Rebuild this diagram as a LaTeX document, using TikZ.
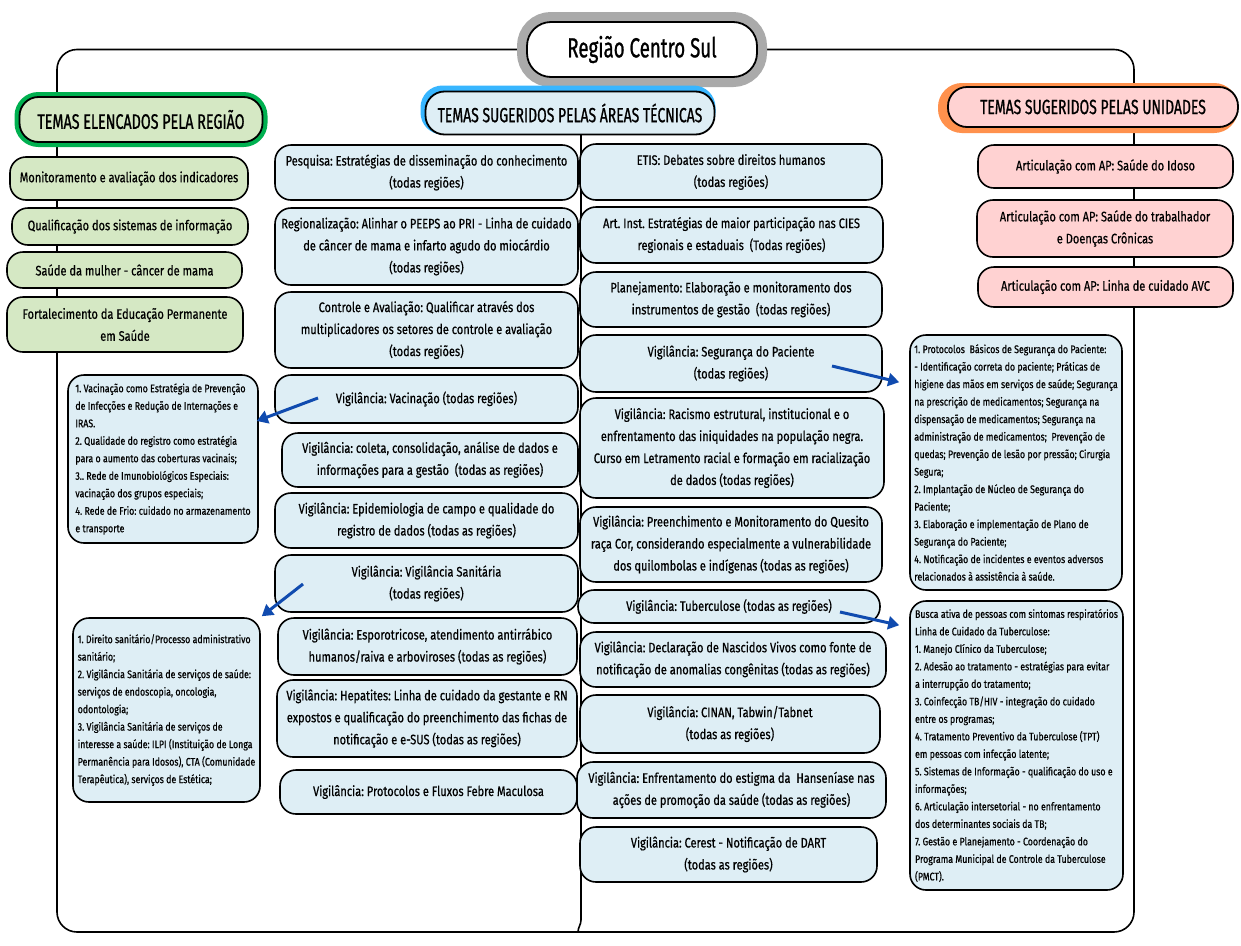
\documentclass[tikz,border=0pt]{standalone}
\usepackage{fontspec}
\setmainfont{Fira Sans}[FakeStretch=0.8,FakeBold=0.6]
\newfontfamily\headfont{Fira Sans}[FakeStretch=0.68,FakeBold=0.9]
\usetikzlibrary{arrows.meta}

\definecolor{boxblue}{RGB}{222,238,245}
\definecolor{boxgreen}{RGB}{213,232,196}
\definecolor{boxpink}{RGB}{255,210,210}
\definecolor{halogreen}{RGB}{0,176,80}
\definecolor{haloblue}{RGB}{56,182,255}
\definecolor{haloorange}{RGB}{255,145,77}
\definecolor{halogray}{RGB}{170,170,170}
\definecolor{arrowblue}{RGB}{16,75,175}

\tikzset{
  sz/.style n args={2}{minimum width=#1, minimum height=#2},
  topic/.style={draw=black, line width=1.6pt, rounded corners=16pt, align=center,
    inner sep=0pt, font=\fontsize{13.8}{22}\selectfont},
  bluetopic/.style={topic, fill=boxblue},
  greentopic/.style={topic, fill=boxgreen},
  pinktopic/.style={topic, fill=boxpink},
  notebox/.style={draw=black, line width=1.6pt, rounded corners=16pt, fill=boxblue,
    align=left, inner sep=0pt, font=\fontsize{11}{17.5}\selectfont},
  header/.style={draw=black, line width=1.8pt, rounded corners=19pt, align=center,
    inner sep=0pt, font=\headfont\fontsize{20.5}{22}\selectfont},
  link/.style={draw=black, line width=1.6pt},
  pointer/.style={draw=arrowblue, line width=3pt, -{Triangle[length=11pt,width=13pt]}}
}

\begin{document}
\frenchspacing
\begin{tikzpicture}[x=1pt,y=-1pt]
\useasboundingbox (0,0) rectangle (1241,945);
\fill[white] (0,0) rectangle (1241,945);

% tree connectors behind the boxes
\coordinate (spinetop) at (581,70);
\coordinate (spinebot) at (581,920);
\coordinate (corner) at (57,932);
\coordinate (rcorner) at (1134,932);
\node (T) at (642,49.5) {};
\draw[link, rounded corners=20pt] (T.center) -| (corner) -- (rcorner) |- (T.center);
\draw[link] (spinetop) -- (spinebot) to[out=-90,in=90] (578,932);

% title
\node[header, fill=white, preaction={draw=halogray, line width=20pt}, rounded corners=24pt,
  sz={230pt}{55pt}, font=\headfont\fontsize{27.5}{30}\selectfont] (title) at (642,49.5) {Região Centro Sul};

% column headers
\node[header, fill=boxgreen, preaction={draw=halogreen, line width=10pt},
  sz={243pt}{45pt}, font=\headfont\fontsize{21}{22}\selectfont] (HG) at (141,119.5) {TEMAS ELENCADOS PELA REGIÃO};
\node[header, fill=boxblue,
  preaction={draw=haloblue, fill=haloblue, line width=6pt, transform canvas={shift={(-2pt,3pt)}}},
  sz={289pt}{43pt}] (HB) at (570,113) {TEMAS SUGERIDOS PELAS ÁREAS TÉCNICAS};
\node[header, fill=boxpink,
  preaction={draw=haloorange, fill=haloorange, line width=10pt, transform canvas={shift={(-5pt,-1pt)}}},
  sz={290pt}{40pt}] (HO) at (1093,107) {TEMAS SUGERIDOS PELAS UNIDADES};

% themes chosen by the region
\node[greentopic, sz={238pt}{43pt}] (G1) at (129,178.5) {Monitoramento e avaliação dos indicadores};
\node[greentopic, sz={236pt}{37pt}] (G2) at (130,226.5) {Qualificação dos sistemas de informação};
\node[greentopic, sz={235pt}{36pt}] (G3) at (124.5,270) {Saúde da mulher - câncer de mama};
\node[greentopic, sz={236pt}{55pt}] (G4) at (125,324.5) {Fortalecimento da Educação Permanente\\em Saúde};

% details boxes, left
\node[notebox, sz={190pt}{168pt}] (L1) at (163,459) {1. Vacinação como Estratégia de Prevenção\\
de Infecções e Redução de Internações e\\
IRAS.\\
2. Qualidade do registro como estratégia\\
para o aumento das coberturas vacinais;\\
3.. Rede de Imunobiológicos Especiais:\\
vacinação dos grupos especiais;\\
4. Rede de Frio: cuidado no armazenamento\\
e transporte};
\node[notebox, sz={187pt}{184pt}] (L2) at (166.5,710) {1. Direito sanitário/Processo administrativo\\
sanitário;\\
2. Vigilância Sanitária de serviços de saúde:\\
serviços de endoscopia, oncologia,\\
odontologia;\\
3. Vigilância Sanitária de serviços de\\
interesse a saúde: ILPI (Instituição de Longa\\
Permanência para Idosos), CTA (Comunidade\\
Terapêutica), serviços de Estética;};

% technical areas, first column
\node[bluetopic, sz={303pt}{55pt}] (A1) at (426.5,172.5) {Pesquisa: Estratégias de disseminação do conhecimento\\(todas regiões)};
\node[bluetopic, sz={303pt}{77pt}] (A2) at (426.5,246.5) {Regionalização: Alinhar o PEEPS ao PRI - Linha de cuidado\\de câncer de mama e infarto agudo do miocárdio\\(todas regiões)};
\node[bluetopic, sz={303pt}{76pt}] (A3) at (426.5,330) {Controle e Avaliação: Qualificar através dos\\multiplicadores os setores de controle e avaliação\\(todas regiões)};
\node[bluetopic, sz={303pt}{48pt}] (A4) at (426.5,399) {Vigilância: Vacinação (todas regiões)};
\node[bluetopic, sz={296pt}{54pt}] (A5) at (430,460) {Vigilância: coleta, consolidação, análise de dados e\\informações para a gestão \ (todas as regiões)};
\node[bluetopic, sz={303pt}{55pt}] (A6) at (426.5,520.5) {Vigilância: Epidemiologia de campo e qualidade do\\registro de dados (todas as regiões)};
\node[bluetopic, sz={303pt}{57pt}] (A7) at (426.5,583.5) {Vigilância: Vigilância Sanitária\\(todas regiões)};
\node[bluetopic, sz={299pt}{57pt}] (A8) at (427.5,646.5) {Vigilância: Esporotricose, atendimento antirrábico\\humanos/raiva e arboviroses (todas as regiões)};
\node[bluetopic, sz={300pt}{77pt}] (A9) at (427,718.5) {Vigilância: Hepatites: Linha de cuidado da gestante e RN\\expostos e qualificação do preenchimento das fichas de\\notificação e e-SUS (todas as regiões)};
\node[bluetopic, sz={297pt}{44pt}] (A10) at (428.5,792) {Vigilância: Protocolos e Fluxos Febre Maculosa};

% technical areas, second column
\node[bluetopic, sz={302pt}{56pt}] (B1) at (731,172) {ETIS: Debates sobre direitos humanos\\(todas regiões)};
\node[bluetopic, sz={303pt}{56pt}] (B2) at (731.5,235) {Art. Inst. Estratégias de maior participação nas CIES\\regionais e estaduais \ (Todas regiões)};
\node[bluetopic, sz={302pt}{55pt}] (B3) at (731,299.5) {Planejamento: Elaboração e monitoramento dos\\instrumentos de gestão \ (todas regiões)};
\node[bluetopic, sz={302pt}{57pt}] (B4) at (731,363.5) {Vigilância: Segurança do Paciente\\(todas regiões)};
\node[bluetopic, sz={304pt}{100pt}] (B5) at (732,448) {Vigilância: Racismo estrutural, institucional e o\\enfrentamento das iniquidades na população negra.\\Curso em Letramento racial e formação em racialização\\de dados (todas regiões)};
\node[bluetopic, sz={302pt}{75pt}] (B6) at (731,544.5) {Vigilância: Preenchimento e Monitoramento do Quesito\\raça Cor, considerando especialmente a vulnerabilidade\\dos quilombolas e indígenas (todas as regiões)};
\node[bluetopic, sz={302pt}{33pt}] (B7) at (729,606.5) {Vigilância: Tuberculose (todas as regiões)};
\node[bluetopic, sz={306pt}{55pt}] (B8) at (733,659.5) {Vigilância: Declaração de Nascidos Vivos como fonte de\\notificação de anomalias congênitas (todas as regiões)};
\node[bluetopic, sz={300pt}{58pt}] (B9) at (730,724) {Vigilância: CINAN, Tabwin/Tabnet\\(todas as regiões)};
\node[bluetopic, sz={309pt}{56pt}] (B10) at (731.5,790) {Vigilância: Enfrentamento do estigma da \ Hanseníase nas\\ações de promoção da saúde (todas as regiões)};
\node[bluetopic, sz={297pt}{55pt}] (B11) at (728.5,854.5) {Vigilância: Cerest - Notificação de DART\\(todas as regiões)};

% themes suggested by the units
\node[pinktopic, sz={255pt}{43pt}] (C1) at (1105.5,166.5) {Articulação com AP: Saúde do Idoso};
\node[pinktopic, sz={256pt}{57pt}] (C2) at (1105,228.5) {Articulação com AP: Saúde do trabalhador\\e Doenças Crônicas};
\node[pinktopic, sz={255pt}{40pt}] (C3) at (1105.5,287) {Articulação com AP: Linha de cuidado AVC};

% details boxes, right
\node[notebox, sz={212pt}{255pt}] (R1) at (1016,462.5) {1. Protocolos \ Básicos de Segurança do Paciente:\\
- Identificação correta do paciente; Práticas de\\
higiene das mãos em serviços de saúde; Segurança\\
na prescrição de medicamentos; Segurança na\\
dispensação de medicamentos; Segurança na\\
administração de medicamentos; \ Prevenção de\\
quedas; Prevenção de lesão por pressão; Cirurgia\\
Segura;\\
2. Implantação de Núcleo de Segurança do\\
Paciente;\\
3. Elaboração e implementação de Plano de\\
Segurança do Paciente;\\
4. Notificação de incidentes e eventos adversos\\
relacionados à assistência à saúde.};
\node[notebox, sz={213pt}{289pt}] (R2) at (1016.5,745.5) {Busca ativa de pessoas com sintomas respiratórios\\
Linha de Cuidado da Tuberculose:\\
1. Manejo Clínico da Tuberculose;\\
2. Adesão ao tratamento - estratégias para evitar\\
a interrupção do tratamento;\\
3. Coinfecção TB/HIV - integração do cuidado\\
entre os programas;\\
4. Tratamento Preventivo da Tuberculose (TPT)\\
em pessoas com infecção latente;\\
5. Sistemas de Informação - qualificação do uso e\\
informações;\\
6. Articulação intersetorial - no enfrentamento\\
dos determinantes sociais da TB;\\
7. Gestão e Planejamento - Coordenação do\\
Programa Municipal de Controle da Tuberculose\\
(PMCT).};

% pointers from topics to their details
\coordinate (vacS) at (318,398);
\coordinate (visaS) at (303,584);
\coordinate (segS) at (832,366);
\coordinate (tbS) at (840,612);
\draw[pointer] (vacS) -- ([xshift=-2pt,yshift=38pt]L1.east);
\draw[pointer] (visaS) -- ([xshift=1pt,yshift=1pt]L2.north east);
\draw[pointer] (segS) -- ([xshift=-10pt,yshift=-48pt]R1.north west);
\draw[pointer] (tbS) -- ([xshift=-10pt,yshift=-25pt]R2.north west);
\end{tikzpicture}
\end{document}
